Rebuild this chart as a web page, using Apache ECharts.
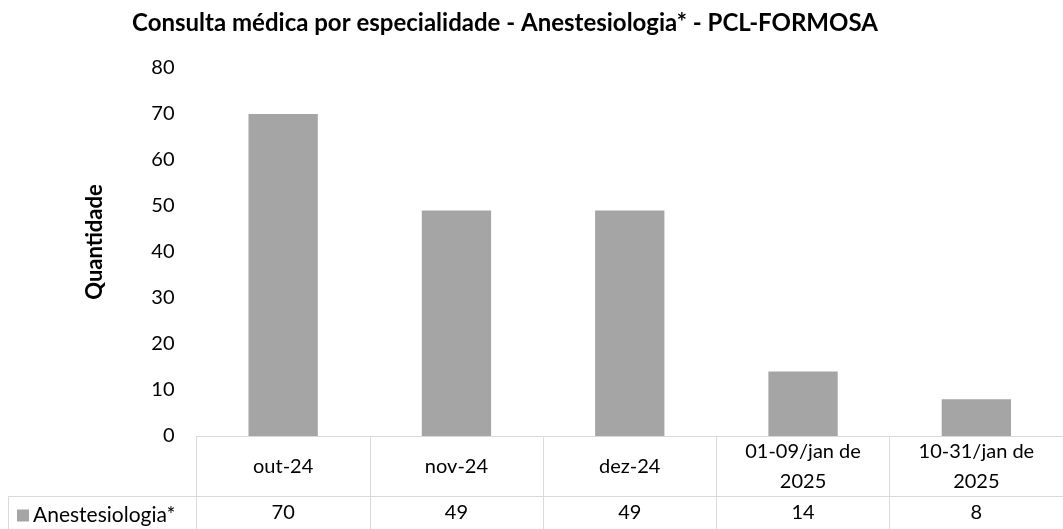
<!DOCTYPE html>
<html>
<head>
<meta charset="utf-8">
<script src="https://cdn.jsdelivr.net/npm/echarts@6/dist/echarts.min.js"></script>
<style>
  html, body { margin: 0; padding: 0; background: #fff; }
  #chart { width: 1063px; height: 529px; }
</style>
</head>
<body>
<div id="chart"></div>
<script>
const categories = ['out-24', 'nov-24', 'dez-24', '01-09/jan de\n2025', '10-31/jan de\n2025']
const values = [70, 49, 49, 14, 8]
const seriesName = 'Anestesiologia*'
const yTicks = { min: 0, max: 80, interval: 10 }

const font = 'Lato, "Open Sans", sans-serif'
const gridLine = '#d9d9d9'

const chart = echarts.init(document.getElementById('chart'))

chart.setOption({
    animation: false,
    title: {
        text: 'Consulta médica por especialidade - Anestesiologia* - PCL-FORMOSA',
        left: 500,
        top: 6,
        textAlign: 'center',
        textStyle: { fontFamily: font, fontSize: 24, fontWeight: 'bold', color: '#000' },
    },
    legend: {
        data: [seriesName],
        left: 12,
        top: 500,
        icon: 'rect',
        itemWidth: 12,
        itemHeight: 12,
        itemGap: 6,
        textStyle: { fontFamily: font, fontSize: 21, color: '#000', padding: [0, 0, 0, -1] },
    },
    grid: { left: 196.5, right: -8.5, top: 68, bottom: 93, containLabel: false },
    xAxis: [
        {
            type: 'category',
            data: categories,
            axisLine: { lineStyle: { color: gridLine, width: 1 } },
            axisTick: { show: true, interval: 0, length: 95, lineStyle: { color: gridLine } },
            axisLabel: {
                interval: 0,
                margin: 31,
                verticalAlign: 'middle',
                lineHeight: 30,
                fontFamily: font,
                fontSize: 20,
                color: '#000',
            },
        },
        {
            type: 'category',
            position: 'bottom',
            offset: 60,
            data: values.map(String),
            axisLine: { show: true, lineStyle: { color: gridLine, width: 1 } },
            axisTick: { show: false },
            axisLabel: {
                interval: 0,
                margin: 17,
                verticalAlign: 'middle',
                fontFamily: font,
                fontSize: 20,
                color: '#000',
            },
        },
    ],
    yAxis: {
        type: 'value',
        min: yTicks.min,
        max: yTicks.max,
        interval: yTicks.interval,
        name: 'Quantidade',
        nameLocation: 'middle',
        nameRotate: 90,
        nameGap: 91,
        nameTextStyle: {
            fontFamily: font,
            fontSize: 22,
            fontWeight: 'bold',
            color: '#000',
            padding: [0, 0, 0, 20],
        },
        axisLine: { show: false },
        axisTick: { show: false },
        splitLine: { show: false },
        axisLabel: { margin: 22, fontFamily: font, fontSize: 20, color: '#000' },
    },
    graphic: [
        {
            type: 'rect',
            shape: { x: 8.5, y: 496.5, width: 188, height: 40 },
            style: { fill: 'none', stroke: gridLine, lineWidth: 1 },
            silent: true,
        },
    ],
    series: [
        {
            name: seriesName,
            type: 'bar',
            data: values,
            barWidth: '40%',
            itemStyle: { color: '#a5a5a5' },
        },
    ],
})
</script>
</body>
</html>
